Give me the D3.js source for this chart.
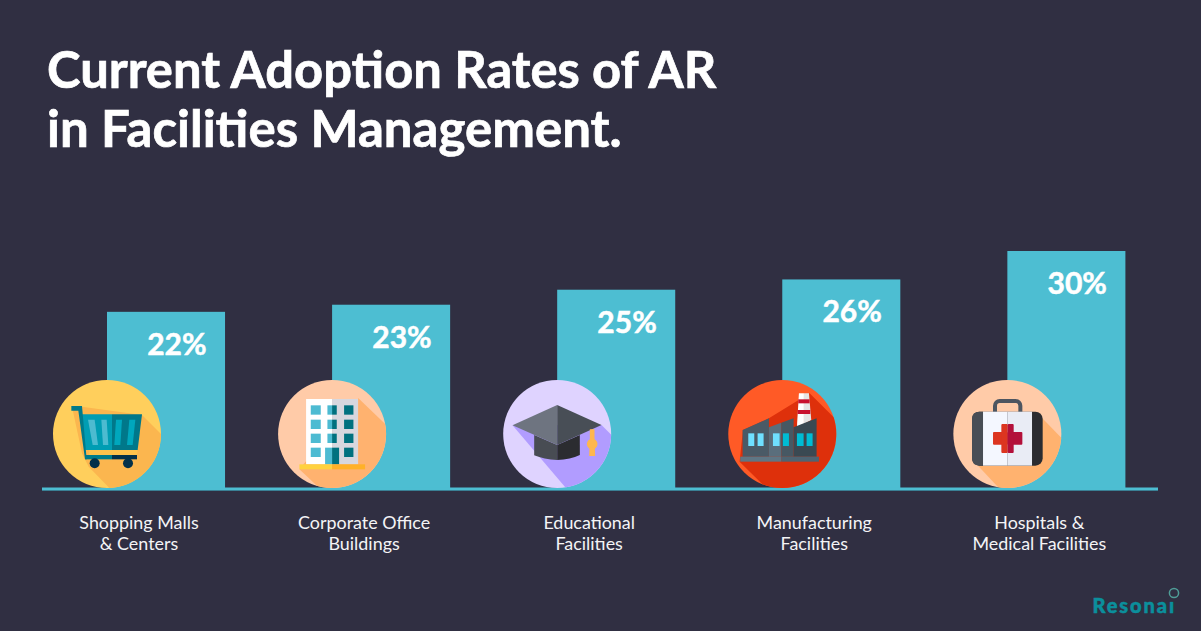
<!DOCTYPE html>
<html>
<head>
<meta charset="utf-8">
<script src="https://cdnjs.cloudflare.com/ajax/libs/d3/7.8.5/d3.min.js"></script>
<style>
  html, body { margin: 0; padding: 0; background: #302f42; overflow: hidden; }
  text { font-family: Lato, sans-serif; }
</style>
</head>
<body>
<svg id="chart" width="1201" height="631"></svg>
<script>
// chart data
var categories = ['shopping', 'office', 'education', 'manufacturing', 'medical'];
var categoryLines = [
  ['Shopping Malls', '& Centers'],
  ['Corporate Office', 'Buildings'],
  ['Educational', 'Facilities'],
  ['Manufacturing', 'Facilities'],
  ['Hospitals &', 'Medical Facilities']
];
var percentLabels = ['22%', '23%', '25%', '26%', '30%'];
// bar heights (the bars are not exactly to the printed number)
var barValues = [22.3, 23.2, 25.1, 26.4, 30];
var titleLines = ['Current Adoption Rates of AR', 'in Facilities Management.'];

var svg = d3.select('#chart');

var x = d3.scaleBand()
  .domain(categories)
  .range([107, 1125.4])
  .paddingInner(107 / 225)
  .paddingOuter(0);

var y = d3.scaleLinear()
  .domain([0, 30])
  .range([488, 251]);

// title
svg.selectAll('.title')
  .data(titleLines)
  .enter()
  .append('text')
  .attr('class', 'title')
  .attr('x', 47)
  .attr('y', function(d, i) { return 88 + i * 59; })
  .attr('fill', '#ffffff')
  .attr('stroke', '#ffffff')
  .attr('stroke-width', 0.7)
  .style('font-size', function(d, i) { return i === 0 ? '50.7px' : '51px'; })
  .style('font-weight', 700)
  .text(function(d) { return d; });

// bars
svg.selectAll('.bar')
  .data(barValues)
  .enter()
  .append('rect')
  .attr('class', 'bar')
  .attr('x', function(d, i) { return x(categories[i]); })
  .attr('y', function(d) { return y(d); })
  .attr('width', x.bandwidth())
  .attr('height', function(d) { return y(0) - y(d); })
  .attr('fill', '#4dbed2');

// baseline
svg.append('rect')
  .attr('x', 42)
  .attr('y', y(0) - 0.5)
  .attr('width', 1116)
  .attr('height', 3)
  .attr('fill', '#4dbed2');
svg.append('rect')
  .attr('x', 42)
  .attr('y', y(0) + 2)
  .attr('width', 1116)
  .attr('height', 0.8)
  .attr('fill', '#3a8496');

// percent labels
svg.selectAll('.pct')
  .data(percentLabels)
  .enter()
  .append('text')
  .attr('class', 'pct')
  .attr('x', function(d, i) { return x(categories[i]) + x.bandwidth() - 18.5; })
  .attr('y', function(d, i) { return y(barValues[i]) + 43; })
  .attr('text-anchor', 'end')
  .attr('fill', '#ffffff')
  .attr('stroke', '#ffffff')
  .attr('stroke-width', 0.5)
  .style('font-size', '30px')
  .style('font-weight', 700)
  .text(function(d) { return d; });

// category labels
categoryLines.forEach(function(lines, i) {
  svg.selectAll('.cat' + i)
    .data(lines)
    .enter()
    .append('text')
    .attr('class', 'cat' + i)
    .attr('x', x(categories[i]) + 32)
    .attr('y', function(d, j) { return 529 + j * 21; })
    .attr('text-anchor', 'middle')
    .attr('fill', '#f4f4f6')
    .style('font-size', '17.9px')
    .text(function(d) { return d; });
});

// helpers for the round icons, drawn at 3x then scaled down
function poly(g, points, fill) {
  g.append('polygon').attr('points', points).attr('fill', fill);
}
function box(g, bx, by, w, h, fill, r) {
  g.append('rect').attr('x', bx).attr('y', by).attr('width', w).attr('height', h)
    .attr('fill', fill).attr('rx', r || 0);
}

var iconColors = {
  shopping: ['#ffcf5c', '#fbb64f'],
  office: ['#ffcba8', '#ffb26f'],
  education: ['#dfd3ff', '#b19cff'],
  manufacturing: ['#ff5a26', '#de300b'],
  medical: ['#ffcba8', '#ffb26f']
};

var defs = svg.append('defs');
defs.append('clipPath').attr('id', 'iconClip')
  .append('circle').attr('r', 162);

var iconDraw = {
  shopping: function(g) {
    poly(g, '-105,-82 -75,-82 105,-57 170,8 170,170 15,170 -55,98 -75,58', iconColors.shopping[1]);
    poly(g, '-82,-59 15,-59 15,48 -65,48', '#009db3');
    poly(g, '15,-59 105,-59 92,48 15,48', '#00788a');
    poly(g, '-57,-43 -37,-43 -27,33 -43,33', '#4dbbd0');
    poly(g, '-17,-43 -1,-43 4,33 -12,33', '#4dbbd0');
    poly(g, '27,-43 45,-43 40,33 22,33', '#00a7bd');
    poly(g, '67,-43 85,-43 77,33 60,33', '#00a7bd');
    poly(g, '-54,48 92,48 90,63 -54,63', '#ffc24c');
    poly(g, '-107,-84 -75,-84 -61,76 -66,76 -86,-70 -107,-70', '#007a8a');
    box(g, -65, 63, 80, 13, '#007a8a');
    box(g, 15, 63, 75, 13, '#03304a');
    g.append('circle').attr('cx', -37).attr('cy', 88).attr('r', 15).attr('fill', '#03304a');
    g.append('circle').attr('cx', 63).attr('cy', 88).attr('r', 15).attr('fill', '#03304a');
  },
  office: function(g) {
    poly(g, '79,-107 170,-20 170,170 -30,170 -98,106', iconColors.office[1]);
    box(g, -78, -105, 78, 196, '#ffffff');
    box(g, 0, -105, 78, 196, '#d7d7de');
    [-86, -43, -1, 41].forEach(function(wy, row) {
      box(g, -64, wy, 30, 28, '#4dbbd2');
      box(g, 36, wy, 28, 28, '#00717f');
      if (row < 3) {
        box(g, -14, wy, 14, 28, '#4dbbd2');
        box(g, 0, wy, 14, 28, '#00717f');
      }
    });
    box(g, -21, 41, 21, 50, '#4dbbd2');
    box(g, 0, 41, 21, 50, '#00717f');
    box(g, -98, 91, 98, 15, '#ffd23f');
    box(g, 0, 91, 99, 15, '#ffb128');
  },
  education: function(g) {
    poly(g, '-134,-26 133,-27 170,10 170,170 33,170', iconColors.education[1]);
    g.append('path').attr('d', 'M-69,3 L0,33 L0,78 Q-40,76 -69,64 Z').attr('fill', '#484c53');
    g.append('path').attr('d', 'M0,33 L68,3 L68,63 Q40,76 0,78 Z').attr('fill', '#2b2c30');
    poly(g, '-134,-26 0,-87 0,33', '#6e7480');
    poly(g, '0,-87 133,-27 0,33', '#484e56');
    poly(g, '98,-14 112,-14 112,20 98,20', '#ffb74d');
    g.append('ellipse').attr('cx', 105).attr('cy', 30).attr('rx', 16).attr('ry', 16).attr('fill', '#ffb74d');
    poly(g, '97,40 113,40 114,66 96,66', '#ffb74d');
  },
  manufacturing: function(g) {
    poly(g, '82,-122 170,-35 170,170 -40,170 -128,83 -118,-12 -40,-47', iconColors.manufacturing[1]);
    poly(g, '50,-122 65,-122 65,-30 44,-22', '#ffffff');
    poly(g, '65,-122 80,-122 87,-42 65,-30', '#e4e4e4');
    box(g, 48, -104, 34, 12, '#c8102e');
    box(g, 46, -72, 38, 12, '#c8102e');
    poly(g, '-119,-12 -40,-47 -40,68 -119,68', '#4a5a66');
    poly(g, '-40,-20 -3,-34 -3,68 -40,68', '#5a6e7c');
    poly(g, '-3,-34 34,-47 34,68 -3,68', '#475863');
    poly(g, '34,-20 103,-47 103,68 34,68', '#3a4952');
    box(g, -126, 68, 123, 15, '#5f7684');
    box(g, -3, 68, 113, 15, '#4e6472');
    box(g, -102, -2, 18, 38, '#6fe0ff');
    box(g, -74, -2, 18, 38, '#6fe0ff');
    box(g, -28, -2, 20, 38, '#6fe0ff');
    box(g, 2, -2, 18, 38, '#00bcd4');
    box(g, 44, -2, 20, 38, '#00bcd4');
    box(g, 73, -2, 18, 38, '#00bcd4');
  },
  medical: function(g) {
    poly(g, '102,-50 170,20 170,170 -18,170 -88,95', iconColors.medical[1]);
    g.append('rect').attr('x', -37).attr('y', -99).attr('width', 76).attr('height', 50).attr('rx', 14)
      .attr('fill', 'none').attr('stroke', '#4d5560').attr('stroke-width', 12);
    box(g, -106, -67, 212, 162, '#2b2c30', 22);
    g.append('path').attr('d', 'M-73,-67 L-84,-67 Q-106,-67 -106,-45 L-106,73 Q-106,95 -84,95 L-73,95 Z').attr('fill', '#484d55');
    box(g, -73, -67, 74, 162, '#f4f7ff');
    box(g, 1, -67, 73, 162, '#e9ecf5');
    box(g, -43, -6, 44, 38, '#dc3520', 3);
    box(g, -18, -30, 19, 87, '#dc3520', 3);
    box(g, 1, -6, 44, 38, '#b3103a', 3);
    box(g, 1, -30, 18, 87, '#b3103a', 3);
  }
};

categories.forEach(function(c) {
  var g = svg.append('g')
    .attr('transform', 'translate(' + x(c) + ',434) scale(' + (1 / 3) + ')');
  g.append('circle').attr('r', 162).attr('fill', iconColors[c][0]);
  var inner = g.append('g');
  iconDraw[c](inner);
  // only the long shadow is clipped, icons stay inside the circle anyway
  inner.attr('clip-path', 'url(#iconClip)');
});

// logo
svg.append('text')
  .attr('x', 1092.5)
  .attr('y', 612.8)
  .attr('fill', '#0b8f9c')
  .attr('stroke', '#0b8f9c')
  .attr('stroke-width', 0.5)
  .style('font-size', '20px')
  .style('font-weight', 900)
  .style('letter-spacing', '1.9px')
  .text('Resonai');
// the ring replaces the dot of the i
svg.append('rect')
  .attr('x', 1168)
  .attr('y', 595)
  .attr('width', 12)
  .attr('height', 6.5)
  .attr('fill', '#302f42');
svg.append('circle')
  .attr('cx', 1174)
  .attr('cy', 593)
  .attr('r', 4.6)
  .attr('fill', 'none')
  .attr('stroke', '#4f9d97')
  .attr('stroke-width', 1.5);
</script>
</body>
</html>
